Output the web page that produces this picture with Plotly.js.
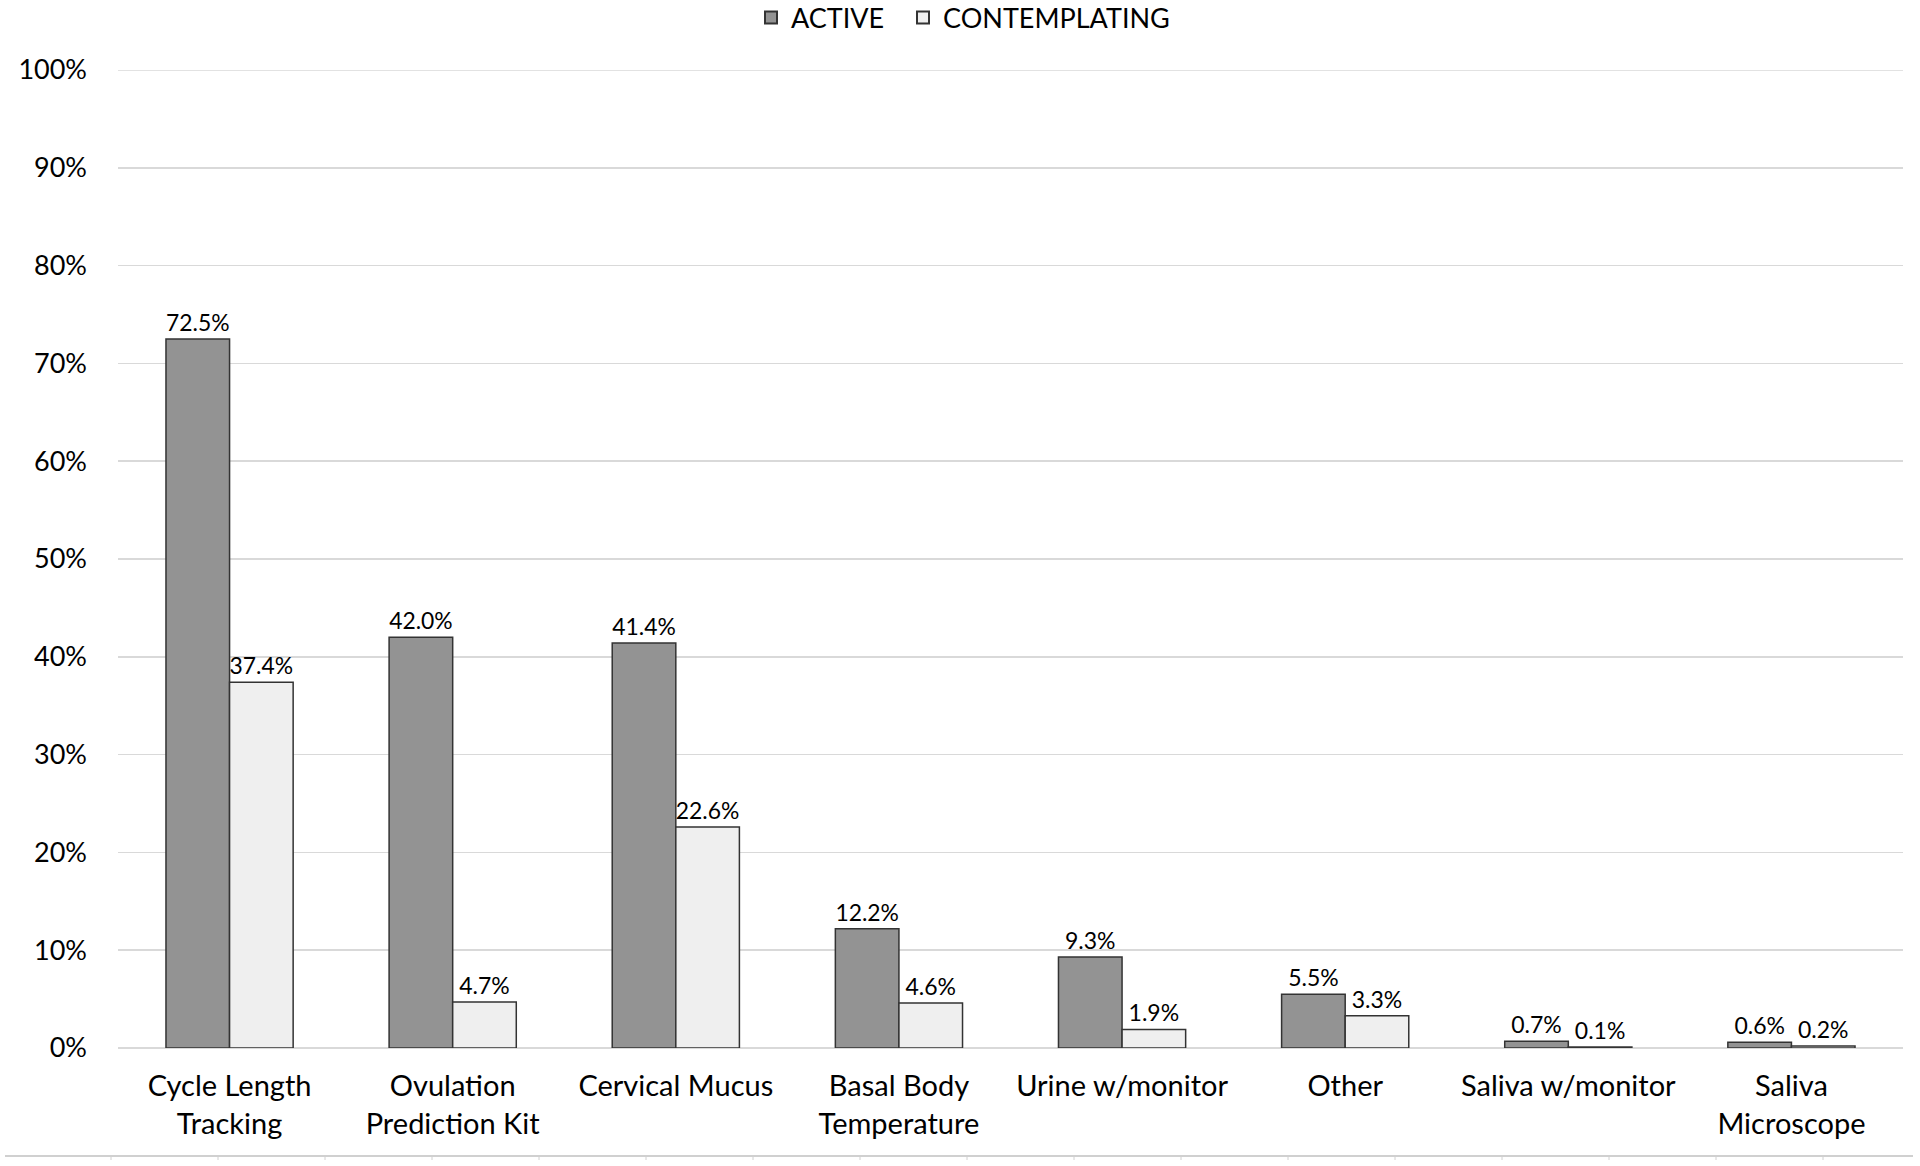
<!DOCTYPE html>
<html>
<head>
<meta charset="utf-8">
<script src="https://cdn.plot.ly/plotly-3.0.1.min.js"></script>
<style>html,body{margin:0;padding:0;background:#fff;}#chart{width:1920px;height:1166px;}</style>
</head>
<body>
<div id="chart"></div>
<script>
const categories = [
  "Cycle Length<br>Tracking",
  "Ovulation<br>Prediction Kit",
  "Cervical Mucus",
  "Basal Body<br>Temperature",
  "Urine w/monitor",
  "Other",
  "Saliva w/monitor",
  "Saliva<br>Microscope"
];
const seriesNames = ["ACTIVE", "CONTEMPLATING"];
const activeValues = [72.5, 42.0, 41.4, 12.2, 9.3, 5.5, 0.7, 0.6];
const contemplatingValues = [37.4, 4.7, 22.6, 4.6, 1.9, 3.3, 0.1, 0.2];
const yTickValues = [0, 10, 20, 30, 40, 50, 60, 70, 80, 90, 100];

const FONT = "Lato, 'Open Sans', sans-serif";
const W = 1920, H = 1166;
const M = {l: 118, r: 17, t: 70, b: 118};
const plotW = W - M.l - M.r, plotH = H - M.t - M.b;
const px2x = px => (px - M.l) / plotW;
const py2y = py => (H - M.b - py) / plotH;

const shapes = [];
// top gridline (at the range edge)
const yTop = yTickValues[yTickValues.length - 1];
shapes.push({type: 'line', xref: 'paper', yref: 'y', x0: 0, x1: 1, y0: yTop, y1: yTop,
  line: {color: '#d9d9d9', width: 1.5}, layer: 'below'});
// decorative border line at the bottom of the figure
const lineY = py2y(1156);
shapes.push({type: 'line', xref: 'paper', yref: 'paper', x0: px2x(5), x1: px2x(1913), y0: lineY, y1: lineY,
  line: {color: '#d0d0d0', width: 2}});
for (let k = 0; k <= 16; k++) {
  const xp = px2x(111 + 107 * k);
  shapes.push({type: 'line', xref: 'paper', yref: 'paper', x0: xp, x1: xp, y0: lineY, y1: py2y(1160),
    line: {color: '#d0d0d0', width: 1}});
}

const traces = [
  {
    type: 'bar', name: seriesNames[0] + '\u00a0\u00a0', x: categories, y: activeValues,
    marker: {color: '#939393', line: {color: '#333333', width: 1.5}},
    text: activeValues.map(v => v.toFixed(1) + '%'),
    textposition: 'outside', cliponaxis: false,
    textfont: {family: FONT, size: 23, color: '#000'},
    hoverinfo: 'x+y'
  },
  {
    type: 'bar', name: seriesNames[1], x: categories, y: contemplatingValues,
    marker: {color: '#efefef', line: {color: '#333333', width: 1.5}},
    text: contemplatingValues.map(v => v.toFixed(1) + '%'),
    textposition: 'outside', cliponaxis: false,
    textfont: {family: FONT, size: 23, color: '#000'},
    hoverinfo: 'x+y'
  }
];

const layout = {
  width: W, height: H,
  margin: M,
  paper_bgcolor: '#fff', plot_bgcolor: '#fff',
  font: {family: FONT, color: '#000'},
  barmode: 'group',
  bargap: 0.43,
  bargroupgap: 0,
  showlegend: true,
  legend: {
    orientation: 'h', xref: 'container', x: 751 / W, xanchor: 'left',
    yref: 'container', y: 1 - 18 / H, yanchor: 'middle',
    font: {family: FONT, size: 27, color: '#000'},
    itemsizing: 'constant', traceorder: 'normal'
  },
  xaxis: {
    type: 'category',
    tickfont: {family: FONT, size: 29, color: '#000'},
    showgrid: false, zeroline: false, showline: false,
    ticks: '', ticklabelstandoff: 18
  },
  yaxis: {
    range: [0, 100],
    tickvals: yTickValues,
    ticktext: yTickValues.map(v => v + '%'),
    tickfont: {family: FONT, size: 27, color: '#000'},
    showgrid: true, gridcolor: '#d9d9d9', gridwidth: 1.5,
    zeroline: true, zerolinecolor: '#d9d9d9', zerolinewidth: 1.5,
    showline: false, ticks: '', ticklabelstandoff: 30
  },
  shapes: shapes
};

Plotly.newPlot('chart', traces, layout, {displayModeBar: false, staticPlot: true});
</script>
</body>
</html>
